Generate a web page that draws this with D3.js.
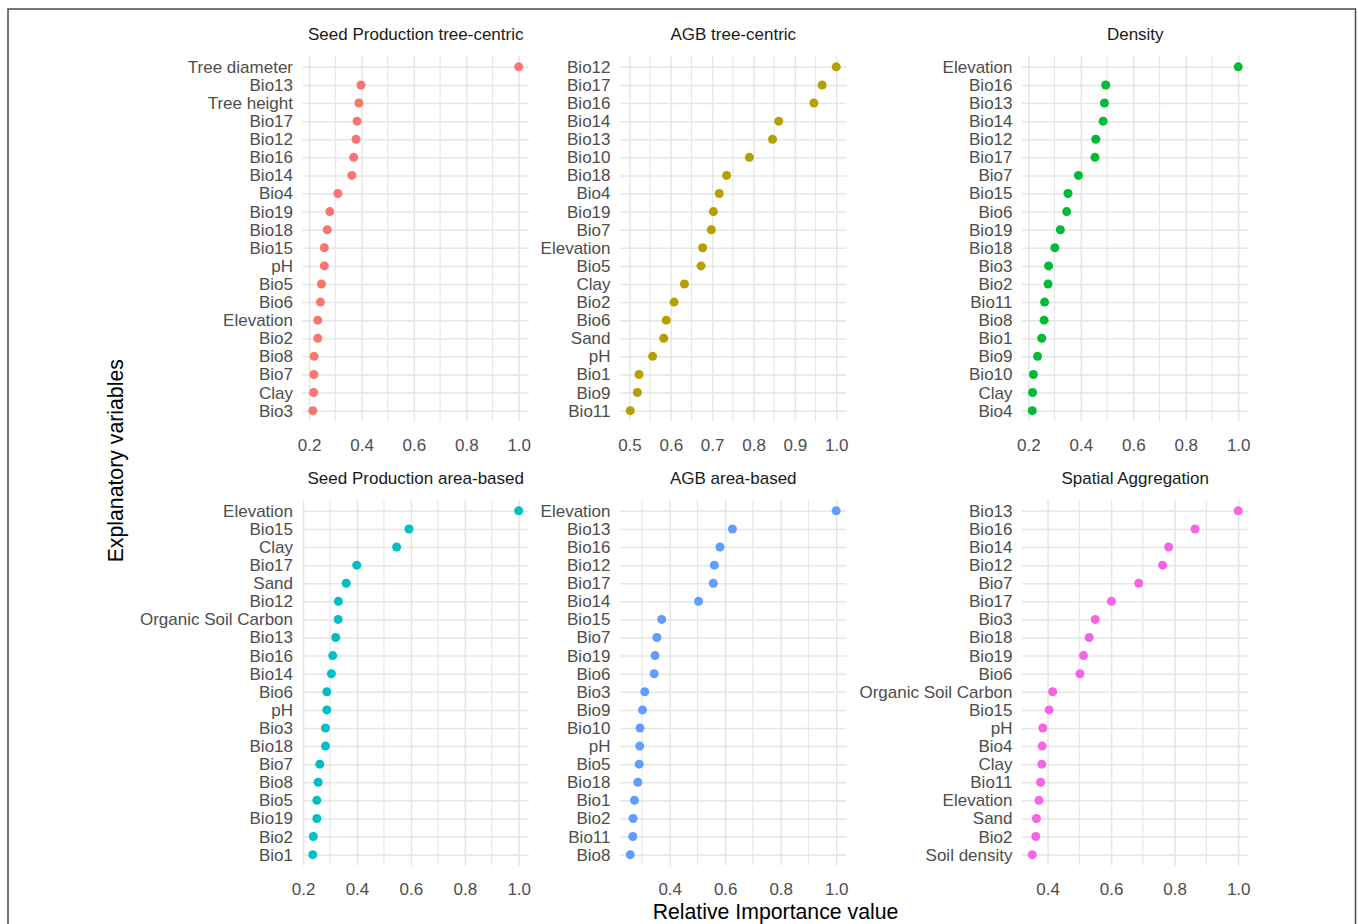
<!DOCTYPE html>
<html>
<head>
<meta charset="utf-8">
<script src="https://cdn.jsdelivr.net/npm/d3@7"></script>
<style>
  html, body { margin: 0; padding: 0; background: #fff; }
  svg { display: block; font-family: "Liberation Sans", Arial, Helvetica, sans-serif; }
</style>
</head>
<body>
<svg id="chart" width="1358" height="924"></svg>
<script>
// ---------------- DATA ----------------
const panelTitles = [
  "Seed Production tree-centric", "AGB tree-centric", "Density",
  "Seed Production area-based", "AGB area-based", "Spatial Aggregation"
];
const panelColors = ["#F8766D", "#B79F00", "#00BA38", "#00BFC4", "#619CFF", "#F564E3"];

const seedTreeVars = ["Tree diameter","Bio13","Tree height","Bio17","Bio12","Bio16","Bio14","Bio4","Bio19","Bio18","Bio15","pH","Bio5","Bio6","Elevation","Bio2","Bio8","Bio7","Clay","Bio3"];
const seedTreeVals = [1.0,0.398,0.390,0.383,0.379,0.370,0.363,0.310,0.279,0.269,0.258,0.258,0.247,0.243,0.233,0.233,0.219,0.218,0.217,0.214];

const agbTreeVars = ["Bio12","Bio17","Bio16","Bio14","Bio13","Bio10","Bio18","Bio4","Bio19","Bio7","Elevation","Bio5","Clay","Bio2","Bio6","Sand","pH","Bio1","Bio9","Bio11"];
const agbTreeVals = [1.0,0.966,0.946,0.861,0.846,0.790,0.735,0.717,0.703,0.698,0.677,0.673,0.633,0.608,0.589,0.583,0.556,0.523,0.519,0.502];

const densityVars = ["Elevation","Bio16","Bio13","Bio14","Bio12","Bio17","Bio7","Bio15","Bio6","Bio19","Bio18","Bio3","Bio2","Bio11","Bio8","Bio1","Bio9","Bio10","Clay","Bio4"];
const densityVals = [1.0,0.495,0.490,0.485,0.457,0.454,0.391,0.351,0.346,0.322,0.301,0.277,0.275,0.262,0.260,0.251,0.235,0.219,0.216,0.215];

const seedAreaVars = ["Elevation","Bio15","Clay","Bio17","Sand","Bio12","Organic Soil Carbon","Bio13","Bio16","Bio14","Bio6","pH","Bio3","Bio18","Bio7","Bio8","Bio5","Bio19","Bio2","Bio1"];
const seedAreaVals = [1.0,0.593,0.547,0.399,0.360,0.331,0.330,0.321,0.310,0.305,0.288,0.288,0.283,0.283,0.262,0.256,0.251,0.251,0.238,0.236];

const agbAreaVars = ["Elevation","Bio13","Bio16","Bio12","Bio17","Bio14","Bio15","Bio7","Bio19","Bio6","Bio3","Bio9","Bio10","pH","Bio5","Bio18","Bio1","Bio2","Bio11","Bio8"];
const agbAreaVals = [1.0,0.626,0.581,0.561,0.557,0.504,0.371,0.354,0.347,0.344,0.310,0.302,0.293,0.292,0.290,0.285,0.273,0.268,0.267,0.258];

const spatialVars = ["Bio13","Bio16","Bio14","Bio12","Bio7","Bio17","Bio3","Bio18","Bio19","Bio6","Organic Soil Carbon","Bio15","pH","Bio4","Clay","Bio11","Elevation","Sand","Bio2","Soil density"];
const spatialVals = [1.0,0.864,0.781,0.762,0.687,0.601,0.550,0.531,0.513,0.502,0.416,0.405,0.385,0.383,0.382,0.378,0.373,0.365,0.363,0.352];

const seedTreeTicks = [0.2,0.4,0.6,0.8,1.0];
const agbTreeTicks  = [0.5,0.6,0.7,0.8,0.9,1.0];
const densityTicks  = [0.2,0.4,0.6,0.8,1.0];
const seedAreaTicks = [0.2,0.4,0.6,0.8,1.0];
const agbAreaTicks  = [0.4,0.6,0.8,1.0];
const spatialTicks  = [0.4,0.6,0.8,1.0];

const xTitle = "Relative Importance value";
const yTitle = "Explanatory variables";

// ---------------- LAYOUT ----------------
const svg = d3.select("#chart");
const colLeft = [302.5, 620, 1022];
const panelW = 226.5;
const rowTop = [56, 500];
const panelH = 365.5;

const panels = [
  {vars: seedTreeVars, vals: seedTreeVals, ticks: seedTreeTicks},
  {vars: agbTreeVars,  vals: agbTreeVals,  ticks: agbTreeTicks},
  {vars: densityVars,  vals: densityVals,  ticks: densityTicks},
  {vars: seedAreaVars, vals: seedAreaVals, ticks: seedAreaTicks},
  {vars: agbAreaVars,  vals: agbAreaVals,  ticks: agbAreaTicks},
  {vars: spatialVars,  vals: spatialVals,  ticks: spatialTicks}
];

// outer frame
svg.append("rect")
  .attr("x", 8).attr("y", 9).attr("width", 1347.5).attr("height", 940)
  .attr("fill", "none").attr("stroke", "#4a4a4a").attr("stroke-width", 1.5);

const gridColor = "#E6E6E6";

panels.forEach((p, i) => {
  const col = i % 3, row = Math.floor(i / 3);
  const x0 = colLeft[col], y0 = rowTop[row];
  const g = svg.append("g");

  const ext = d3.extent(p.vals);
  const pad = (ext[1] - ext[0]) * 0.05;
  const x = d3.scaleLinear().domain([ext[0] - pad, ext[1] + pad]).range([x0, x0 + panelW]);
  const y = d3.scalePoint().domain(p.vars).range([y0, y0 + panelH]).padding(0.6);

  // minor gridlines (midpoints between major ticks)
  const step = p.ticks[1] - p.ticks[0];
  const minor = [];
  for (let k = -1; k < p.ticks.length; k++) {
    const v = p.ticks[0] + step * (k + 0.5);
    if (v >= x.domain()[0] && v <= x.domain()[1]) minor.push(v);
  }
  g.selectAll(".minor").data(minor).enter().append("line")
    .attr("x1", d => x(d)).attr("x2", d => x(d))
    .attr("y1", y0).attr("y2", y0 + panelH)
    .attr("stroke", gridColor).attr("stroke-width", 1.1);

  const xAxis = d3.axisBottom(x).tickValues(p.ticks).tickFormat(d3.format(".1f")).tickSize(panelH).tickPadding(17);
  const ax = g.append("g").attr("transform", `translate(0,${y0})`).call(xAxis);
  ax.select(".domain").remove();
  ax.selectAll(".tick line").attr("stroke", gridColor).attr("stroke-width", 1.5);
  ax.selectAll(".tick text").attr("fill", "#4D4D4D").attr("font-size", 17)
    .attr("font-family", "Liberation Sans, Arial, sans-serif");

  const yAxis = d3.axisLeft(y).tickSize(-panelW).tickPadding(9.5);
  const ay = g.append("g").attr("transform", `translate(${x0},0)`).call(yAxis);
  ay.select(".domain").remove();
  ay.selectAll(".tick line").attr("stroke", gridColor).attr("stroke-width", 1.5);
  ay.selectAll(".tick text").attr("fill", "#4D4D4D").attr("font-size", 17)
    .attr("font-family", "Liberation Sans, Arial, sans-serif");

  // title
  g.append("text")
    .attr("x", x0 + panelW / 2).attr("y", y0 - 16.5)
    .attr("text-anchor", "middle").attr("font-size", 17).attr("fill", "#1A1A1A")
    .text(panelTitles[i]);

  // points
  g.selectAll("circle").data(p.vars.map((v, k) => ({v, val: p.vals[k]})))
    .enter().append("circle")
    .attr("cx", d => x(d.val)).attr("cy", d => y(d.v))
    .attr("r", 4.5).attr("fill", panelColors[i]);
});

// axis titles
svg.append("text")
  .attr("x", (colLeft[0] + colLeft[2] + panelW) / 2).attr("y", 919)
  .attr("text-anchor", "middle").attr("font-size", 21.25).attr("fill", "#000")
  .text(xTitle);

svg.append("text")
  .attr("transform", `translate(123,${(rowTop[0] + rowTop[1] + panelH) / 2}) rotate(-90)`)
  .attr("text-anchor", "middle").attr("font-size", 21.25).attr("fill", "#000")
  .text(yTitle);
</script>
</body>
</html>
